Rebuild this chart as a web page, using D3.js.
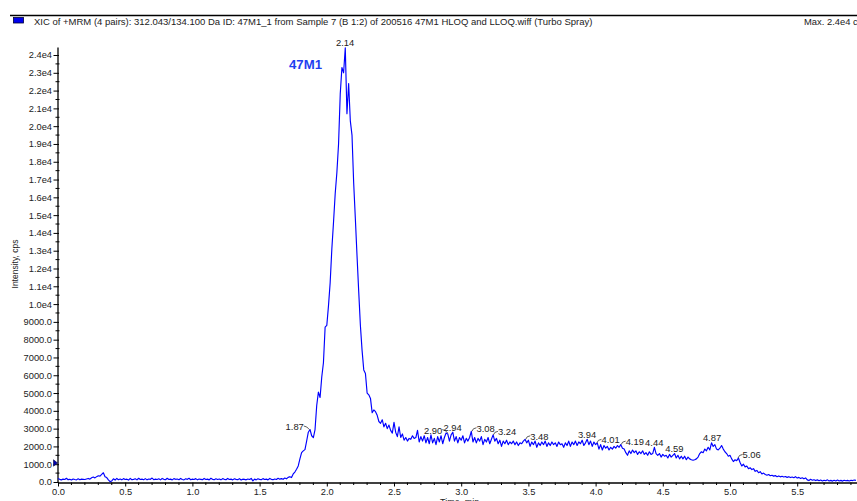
<!DOCTYPE html>
<html>
<head>
<meta charset="utf-8">
<script src="https://cdn.jsdelivr.net/npm/d3@7/dist/d3.min.js"></script>
<style>
  html, body { margin: 0; padding: 0; background: #fff; }
  svg { display: block; font-family: "Liberation Sans", Arial, sans-serif; }
</style>
</head>
<body>
<svg id="chart" width="857" height="501"></svg>
<script>
// ---- Data ----
const titleText = "XIC of +MRM (4 pairs): 312.043/134.100 Da ID: 47M1_1 from Sample 7 (B 1:2) of 200516 47M1 HLOQ and LLOQ.wiff (Turbo Spray)";
const maxText = "Max. 2.4e4 cps.";
const compoundName = "47M1";
const xAxisTitle = "Time, min";
const yAxisTitle = "Intensity, cps";

const sampleStepMin = 0.0125; // sampling interval of the trace (min)
const intensityCps = [
  // 0.00 - 0.20
  200,150,120,160,140,210,130,150,110,170,140,120,180,130,160,150,140,
  // 0.2125 - 0.3375
  170,200,160,240,280,230,300,350,330,430,520,
  // 0.35 - 0.4875
  300,250,120,20,60,180,110,200,130,170,120,190,
  // 0.50 - 0.7375
  140,160,110,200,130,150,180,120,210,140,160,130,190,120,170,150,220,130,160,140,
  // 0.75 - 0.9875
  180,120,200,150,130,210,140,160,120,190,150,170,130,200,140,120,180,150,210,130,
  // 1.00 - 1.2375
  160,140,190,120,170,150,130,200,140,160,120,210,150,130,180,140,170,120,190,150,
  // 1.25 - 1.4875
  130,200,140,160,120,180,150,130,190,110,160,150,120,170,140,200,60,160,120,180,
  // 1.50 - 1.6875
  150,130,190,140,160,120,200,150,130,170,140,210,160,190,150,220,
  // 1.70 - 2.1875 (peak)
  180,260,300,250,450,560,720,900,1300,1650,1750,1820,2300,2800,2950,2600,2500,2950,4300,5050,
  4750,5900,6700,8700,8800,9900,11200,13100,14600,16200,17400,19000,21800,23300,23000,24400,20700,22400,20300,19500,
  // 2.20 - 2.6875
  16800,14800,12700,10700,8800,7400,6300,6100,5000,4900,4700,3900,4050,3950,3750,3400,3300,3500,3100,3300,
  3000,3200,2900,2750,3350,2800,2550,3100,2500,2700,2350,2500,2300,2450,2400,2600,2450,2500,2900,2250,
  // 2.70 - 3.1875
  2550,2300,2600,2200,2500,2150,2650,2200,2450,2100,2550,2250,2600,2150,2500,2750,2700,2300,2650,2800,
  2300,2550,2200,2500,2350,2600,2200,2450,2300,2500,2850,2250,2500,2200,2450,2300,2550,2100,2400,2250,
  // 3.20 - 3.6875
  2500,2150,2400,2650,2300,2450,2150,2350,2000,2300,2150,2350,2100,2250,2150,2300,2100,2250,2050,2200,
  2150,2300,2400,2200,2350,2000,2250,2100,2300,1950,2200,2050,2250,2100,2300,2000,2200,2050,2250,2100,
  // 3.70 - 4.1875
  2200,2000,2250,2100,2150,1950,2200,2050,2300,2000,2250,2100,2300,2050,2250,2150,2350,2050,2200,2400,
  2100,2300,2000,2250,2100,2200,1850,2100,1800,2050,1900,2000,1800,1950,1850,2000,1900,2050,1950,2100,
  // 4.20 - 4.6875
  1900,1850,1650,1500,1750,1600,1800,1650,1750,1550,1700,1600,1750,1550,1650,1500,1700,1550,1600,1950,
  1600,1500,1600,1400,1550,1450,1500,1350,1550,1400,1500,1600,1350,1500,1300,1450,1300,1450,1250,1400,
  // 4.70 - 5.1875
  1300,1250,1220,1250,1300,1400,1600,1700,1650,1850,1750,1950,1800,2200,2000,2100,1850,1800,1900,2050,
  1850,1700,1600,1450,1500,1300,1150,1250,1200,1350,1100,900,1000,850,900,750,800,700,750,600,
  // 5.20 - 5.6875
  650,520,580,450,500,420,380,420,350,380,330,360,300,340,290,320,280,310,260,300,
  250,280,240,300,220,260,200,240,180,230,120,80,150,100,130,80,120,70,110,60,
  // 5.70 - 5.9375
  100,70,120,60,90,50,100,60,110,60,90,50,100,70,90,60,100,80,110,90
];

const peakLabelTimes = [1.87, 2.14, 2.90, 2.94, 3.08, 3.24, 3.48, 3.94, 4.01, 4.19, 4.44, 4.59, 4.87, 5.06];
const peakLabelSides = ["left","above","left","above","right","right","right","above","right","right","above","above","above","right"];

const xMajorTicks = [0.0, 0.5, 1.0, 1.5, 2.0, 2.5, 3.0, 3.5, 4.0, 4.5, 5.0, 5.5];
const yMajorTicks = [0,1000,2000,3000,4000,5000,6000,7000,8000,9000,10000,11000,12000,13000,14000,15000,16000,17000,18000,19000,20000,21000,22000,23000,24000];

// ---- Chart ----
const svg = d3.select("#chart");
const traceColor = "#0000ff";
const textColor = "#222";

const x = d3.scaleLinear().domain([0, 5.945]).range([58, 857]);
const y = d3.scaleLinear().domain([0, 24450]).range([482, 47]);

const points = intensityCps.map((v, i) => ({ t: i * sampleStepMin, v }));

// header rule & legend
svg.append("line").attr("x1", 10).attr("x2", 857).attr("y1", 15.5).attr("y2", 15.5)
  .attr("stroke", "#000").attr("stroke-width", 1.5);
svg.append("rect").attr("x", 13.5).attr("y", 17.5).attr("width", 10).attr("height", 5.5)
  .attr("fill", "#0000ee").attr("stroke", "#000033").attr("stroke-width", 0.8);
svg.append("text").attr("x", 34).attr("y", 25).attr("font-size", 9.5).attr("fill", textColor)
  .text(titleText);
svg.append("text").attr("x", 804).attr("y", 25).attr("font-size", 9.4).attr("fill", textColor)
  .text(maxText);

// y axis
const yAxis = d3.axisLeft(y).tickValues(yMajorTicks)
  .tickFormat(d => d >= 10000 ? (d / 1e4).toFixed(1) + "e4" : d.toFixed(1))
  .tickSize(4).tickSizeOuter(0).tickPadding(1.5);
const gy = svg.append("g").attr("transform", "translate(57.5,0)").call(yAxis);
gy.select(".domain").attr("stroke", "#000").attr("stroke-width", 1.3);
gy.selectAll(".tick line").attr("stroke", "#000").attr("x2", -4).attr("x1", 1.5);
gy.selectAll(".tick text").attr("font-size", 9.3).attr("fill", textColor)
  .attr("font-family", "'Liberation Sans', Arial, sans-serif");
const yMinor = d3.range(500, 24450, 1000);
svg.append("g").selectAll("line").data(yMinor).join("line")
  .attr("x1", 55.5).attr("x2", 59.5).attr("y1", d => y(d)).attr("y2", d => y(d))
  .attr("stroke", "#000").attr("stroke-width", 1);

// x axis
const xAxis = d3.axisBottom(x).tickValues(xMajorTicks).tickFormat(d3.format(".1f"))
  .tickSize(4).tickSizeOuter(0).tickPadding(2);
const gx = svg.append("g").attr("transform", "translate(0,482.5)").call(xAxis);
gx.select(".domain").attr("stroke", "#000").attr("stroke-width", 1.3);
gx.selectAll(".tick line").attr("stroke", "#000");
gx.selectAll(".tick text").attr("font-size", 9.3).attr("fill", textColor)
  .attr("font-family", "'Liberation Sans', Arial, sans-serif");
const xMinor = d3.range(0.1, 5.95, 0.1).filter(d => Math.abs(d * 2 - Math.round(d * 2)) > 1e-6);
svg.append("g").selectAll("line").data(xMinor).join("line")
  .attr("x1", d => x(d)).attr("x2", d => x(d)).attr("y1", 482.5).attr("y2", 485)
  .attr("stroke", "#000").attr("stroke-width", 1);

// axis titles
svg.append("text").attr("x", 440).attr("y", 505).attr("font-size", 9).attr("fill", textColor)
  .text(xAxisTitle);
svg.append("text").attr("transform", "translate(18,264) rotate(-90)")
  .attr("text-anchor", "middle").attr("font-size", 8.5).attr("fill", textColor)
  .text(yAxisTitle);

// small threshold marker on the y axis
svg.append("path").attr("d", `M53.5,${y(1250)} L57.5,${y(1250) + 3.2} L53.5,${y(1250) + 6.4} Z`)
  .attr("fill", "#0000aa").attr("stroke", "#000044").attr("stroke-width", 0.6);

// trace
const line = d3.line().x(d => x(d.t)).y(d => y(d.v));
svg.append("path").datum(points).attr("d", line)
  .attr("fill", "none").attr("stroke", traceColor).attr("stroke-width", 1.15)
  .attr("stroke-linejoin", "round");

// compound name
svg.append("text").attr("x", 289).attr("y", 69).attr("font-size", 13.2).attr("font-weight", "bold")
  .attr("fill", "#1f3ff0").text(compoundName);

// peak labels
const labelG = svg.append("g").attr("font-size", 9.4).attr("fill", textColor);
peakLabelTimes.forEach((t, k) => {
  const i = Math.round(t / sampleStepMin);
  const lo = Math.max(0, i - 1), hi = Math.min(intensityCps.length - 1, i + 1);
  let best = i;
  for (let j = lo; j <= hi; j++) if (intensityCps[j] > intensityCps[best]) best = j;
  const px = x(t), py = y(intensityCps[best]);
  const side = peakLabelSides[k];
  const label = t.toFixed(2);
  if (side === "above") {
    labelG.append("text").attr("x", px - 0.5).attr("y", py - 1.5).attr("text-anchor", "middle").text(label);
  } else if (side === "right") {
    labelG.append("path").attr("d", `M${px},${py} L${px + 1.5},${py - 2.5} L${px + 4.5},${py - 3.5}`)
      .attr("fill", "none").attr("stroke", "#333").attr("stroke-width", 0.8);
    labelG.append("text").attr("x", px + 4.5).attr("y", py + 0.5).text(label);
  } else {
    labelG.append("path").attr("d", `M${px},${py} L${px - 2.5},${py - 2.5} L${px - 5.5},${py - 3.5}`)
      .attr("fill", "none").attr("stroke", "#333").attr("stroke-width", 0.8);
    labelG.append("text").attr("x", px - 5.5).attr("y", py + 0.5).attr("text-anchor", "end").text(label);
  }
});
</script>
</body>
</html>
